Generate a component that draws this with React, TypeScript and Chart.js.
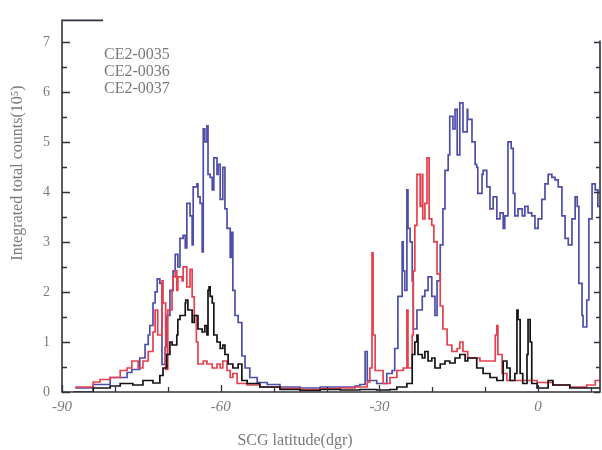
import { useEffect, useRef } from "react";
import { Chart, registerables } from "chart.js";

Chart.register(...registerables);

// ---- data (latitude in degrees, counts in 10^5) ----
const seriesNames = ["CE2-0035", "CE2-0036", "CE2-0037"];
const xTitle = "SCG latitude(dgr)";
const yTitle = "Integrated total counts(10\u2075)";

const latBlue = [
  -87.5, -84.1, -80.9, -77.7, -76.8, -75.3, -74.3, -73.7, -73.4, -72.8, -72.4, -72.0, -71.5,
  -71.1, -70.5, -70.2, -69.6, -69.0, -68.6, -68.1, -67.7, -67.1, -66.7, -66.4, -65.8, -65.4,
  -65.2, -64.5, -64.3, -63.9, -63.5, -63.3, -63.0, -62.6, -62.4, -62.0, -61.6, -61.3, -60.7,
  -60.5, -60.1, -59.6, -59.2, -58.8, -58.2, -57.9, -57.7, -57.3, -56.7, -56.0, -55.4, -54.5,
  -53.1, -51.2, -48.8, -45.0, -41.2, -37.4, -34.6, -33.7, -32.7, -32.3, -30.5, -28.6, -27.6,
  -27.1, -26.5, -25.7, -25.5, -25.2, -24.8, -24.6, -24.2, -23.8, -23.6, -22.9, -21.9, -21.4,
  -20.8, -20.1, -19.5, -19.1, -18.5, -18.0, -17.6, -17.0, -16.7, -16.1, -15.7, -15.3, -14.8,
  -14.2, -13.4, -13.3, -12.5, -11.9, -11.6, -11.4, -10.6, -10.4, -9.7, -9.1, -8.5, -7.8,
  -7.2, -6.6, -6.3, -5.7, -5.1, -4.7, -4.4, -3.8, -3.0, -2.5, -1.9, -1.2, -0.6, 0.0, 0.7,
  1.3, 1.9, 2.6, 3.2, 3.8, 4.5, 5.1, 5.7, 6.4, 7.0, 7.4, 7.7, 8.3, 8.5, 9.2, 9.6, 10.2, 10.8,
  11.3, 11.7,
];
const countsBlue = [
  0.08, 0.15, 0.29, 0.39, 0.45, 0.68, 0.95, 1.14, 1.33, 1.78, 2.0, 2.26, 2.17,
  0.55, 0.9, 1.53, 2.03, 2.42, 2.75, 2.5, 3.07, 3.13, 2.88, 3.77, 3.52, 2.94,
  4.1, 4.16, 3.9, 3.77, 2.8, 5.26, 5.0, 5.32, 4.35, 4.29, 4.04, 4.68, 4.35,
  4.55, 3.85, 4.49, 3.66, 3.27, 2.69, 3.19, 2.03, 1.53, 1.39, 0.72, 0.48, 0.29,
  0.19, 0.15, 0.1, 0.08, 0.1, 0.1, 0.12, 0.15, 0.81, 0.23, 0.17, 0.37, 0.43,
  0.87, 1.91, 3.0, 2.42, 2.03, 4.04, 3.27, 3.0, 2.22, 1.26, 1.64, 1.91, 2.03,
  2.3, 1.91, 1.53, 2.22, 2.94, 3.66, 4.43, 4.74, 5.51, 5.26, 5.65, 4.74, 5.78,
  5.2, 5.65, 5.45, 5.0, 4.55, 4.49, 3.97, 4.35, 4.43, 4.1, 3.66, 3.9, 3.46,
  3.58, 3.27, 3.52, 5.0, 4.87, 3.97, 3.52, 3.66, 3.52, 3.71, 3.58, 3.52, 3.27, 3.46, 3.85,
  4.16, 4.35, 4.29, 4.24, 4.1, 3.52, 3.07, 2.94, 3.46, 3.9, 3.71, 2.17, 1.53, 1.3, 1.84, 3.46, 4.16, 4.04,
  3.71, 3.71,
];

const latRed = [
  -87.5, -84.1, -82.8, -80.9, -79.0, -77.7, -76.8, -75.6, -74.7, -73.7, -72.8, -72.4, -71.9,
  -71.1, -70.9, -70.4, -70.0, -69.2, -69.0, -68.6, -68.3, -68.1, -67.3, -67.1, -66.7, -66.4,
  -65.8, -65.4, -65.0, -64.6, -64.3, -63.3, -62.6, -61.6, -60.7, -60.1, -59.6, -58.8, -58.2,
  -57.7, -56.9, -55.0, -52.6, -48.8, -45.0, -41.2, -37.4, -34.6, -32.3, -31.8, -31.4, -31.2,
  -30.8, -29.3, -28.0, -26.7, -25.5, -24.8, -24.6, -23.8, -23.6, -23.3, -22.9, -22.3, -21.9,
  -21.8, -21.4, -21.0, -20.6, -20.1, -19.7, -19.1, -18.5, -18.0, -17.2, -16.3, -15.3, -14.8,
  -14.2, -13.3, -12.3, -11.0, -9.1, -8.1, -7.8, -7.6, -6.8, -5.9, -3.4, -0.2, 2.8, 6.0, 9.2,
  10.8, 11.7,
];
const countsRed = [
  0.1, 0.2, 0.25, 0.29, 0.43, 0.48, 0.62, 0.48, 0.62, 0.81, 1.2, 1.64, 1.14,
  2.22, 1.78, 0.45, 1.64, 2.03, 2.3, 2.42, 2.03, 2.3, 2.22, 2.5, 2.5, 2.1,
  2.45, 1.9, 1.53, 1.0, 0.56, 0.62, 0.56, 0.48, 0.56, 0.48, 0.62, 0.43, 0.29,
  0.37, 0.17, 0.14, 0.1, 0.07, 0.05, 0.07, 0.08, 0.1, 0.2, 0.48, 2.78, 1.14,
  0.43, 0.17, 0.29, 0.43, 0.48, 1.64, 0.48, 1.14, 2.42, 3.33, 4.35, 3.71, 4.35,
  3.46, 3.77, 4.68, 3.46, 3.33, 3.0, 2.36, 1.72, 1.26, 0.94, 0.81, 0.87, 1.0,
  0.81, 0.68, 0.68, 0.62, 0.62, 1.14, 1.33, 0.75, 0.37, 0.23, 0.23, 0.19, 0.14, 0.1, 0.14,
  0.23, 0.23,
];

const latBlack = [
  -87.9, -84.1, -80.9, -79.0, -76.6, -74.7, -72.8, -71.5, -70.9, -70.2, -69.6, -69.2, -68.6,
  -68.3, -68.1, -67.7, -67.3, -66.7, -66.6, -66.2, -65.4, -65.0, -64.3, -63.5, -63.0, -62.6,
  -62.4, -62.2, -62.0, -61.6, -61.3, -60.7, -60.1, -59.6, -59.2, -58.6, -57.7, -56.7, -56.0,
  -55.0, -52.6, -48.8, -45.0, -41.2, -37.4, -33.7, -30.5, -28.0, -26.7, -24.8, -23.8, -23.3,
  -22.9, -22.7, -21.9, -21.4, -20.8, -20.1, -19.5, -18.5, -17.6, -16.7, -15.7, -14.8, -13.8,
  -13.3, -12.9, -11.6, -10.4, -9.1, -7.8, -6.6, -5.9, -5.3, -4.4, -4.0, -3.8, -3.4, -2.9,
  -2.1, -1.9, -1.5, -1.2, -0.2, 1.9, 2.8, 6.0, 9.8, 11.7,
];
const countsBlack = [
  0.0, 0.08, 0.12, 0.17, 0.14, 0.23, 0.18, 0.33, 0.48, 0.75, 1.0, 0.94, 0.94,
  1.14, 1.45, 1.53, 1.53, 1.78, 1.84, 1.64, 1.39, 1.53, 1.26, 1.2, 1.33, 1.14,
  2.03, 2.1, 1.91, 1.78, 1.14, 1.0, 0.87, 0.94, 0.75, 0.56, 0.48, 0.56, 0.23,
  0.17, 0.1, 0.05, 0.03, 0.05, 0.04, 0.05, 0.04, 0.05, 0.1, 0.17, 0.75, 1.0,
  1.14, 0.75, 0.68, 0.81, 0.62, 0.68, 0.48, 0.56, 0.62, 0.58, 0.68, 0.75, 0.62,
  0.68, 0.68, 0.48, 0.37, 0.29, 0.23, 0.62, 0.48, 0.23, 0.37, 1.64, 1.45, 0.37, 0.17,
  0.75, 1.45, 1.0, 0.17, 0.08, 0.23, 0.14, 0.08, 0.08, 0.1,
];

const xMin = -90;
const xMax = 11.7;
const yMin = 0;
const yMax = 7.43;

const toPoints = (xs: number[], ys: number[]) => xs.map((x, i) => ({ x, y: ys[i] }));

const SERIF = "'Liberation Serif', 'Times New Roman', serif";
const TEXT_GRAY = "#7a7a7a";
const AXIS_COLOR = "#33333f";

const decorPlugin = {
  id: "decor",
  afterDraw(chart: any) {
    const { ctx, chartArea: a, scales } = chart;
    const xs = scales.x;
    const ys = scales.y;
    ctx.save();
    // frame
    ctx.strokeStyle = AXIS_COLOR;
    ctx.lineWidth = 1.6;
    ctx.beginPath();
    ctx.moveTo(a.left + 41, a.top);
    ctx.lineTo(a.left, a.top);
    ctx.lineTo(a.left, a.bottom);
    ctx.lineTo(a.right, a.bottom);
    ctx.lineTo(a.right, a.top + 20);
    ctx.stroke();
    // y ticks (left inward, right inward)
    ctx.lineWidth = 1.3;
    for (let v = 0; v <= 7.01; v += 0.5) {
      const py = Math.round(ys.getPixelForValue(v)) + 0.5;
      const major = Math.abs(v - Math.round(v)) < 0.01;
      ctx.beginPath();
      ctx.moveTo(a.left, py);
      ctx.lineTo(a.left + (major ? 8 : 5), py);
      ctx.moveTo(a.right, py);
      ctx.lineTo(a.right - (major ? 6 : 4), py);
      ctx.stroke();
    }
    // x ticks (inward)
    for (let v = -90; v <= 10; v += 10) {
      const px = Math.round(xs.getPixelForValue(v)) + 0.5;
      const major = v % 30 === 0;
      ctx.beginPath();
      ctx.moveTo(px, a.bottom);
      ctx.lineTo(px, a.bottom - (major ? 7 : 5));
      ctx.stroke();
    }
    // legend texts
    ctx.fillStyle = TEXT_GRAY;
    ctx.font = `16px ${SERIF}`;
    ctx.textAlign = "left";
    ctx.textBaseline = "middle";
    seriesNames.forEach((name, i) => {
      ctx.fillText(name, a.left + 42, a.top + 34 + i * 17);
    });
    // x title
    ctx.font = `16px ${SERIF}`;
    ctx.textAlign = "center";
    ctx.fillText(xTitle, 295, 441);
    // y title
    ctx.translate(18, 173);
    ctx.rotate(-Math.PI / 2);
    ctx.fillText(yTitle, 0, 0);
    ctx.restore();
  },
};

export default function App() {
  const ref = useRef<HTMLCanvasElement | null>(null);
  useEffect(() => {
    if (!ref.current) return;
    const common = {
      pointRadius: 0,
      borderWidth: 1.7,
      stepped: true as const,
      fill: false,
      tension: 0,
    };
    const chart = new Chart(ref.current, {
      type: "line",
      data: {
        datasets: [
          { ...common, label: seriesNames[0], data: toPoints(latBlue, countsBlue), borderColor: "#4e4eaa", order: 3 },
          { ...common, label: seriesNames[1], data: toPoints(latRed, countsRed), borderColor: "#e6404f", order: 2 },
          { ...common, label: seriesNames[2], data: toPoints(latBlack, countsBlack), borderColor: "#141418", order: 1 },
        ],
      },
      options: {
        responsive: false,
        animation: false,
        devicePixelRatio: 1,
        layout: { padding: { left: 0, top: 8, right: 2, bottom: 0 } },
        plugins: { legend: { display: false }, tooltip: { enabled: false }, title: { display: false } },
        scales: {
          x: {
            type: "linear",
            min: xMin,
            max: xMax,
            grid: { display: false, drawTicks: false },
            border: { display: false },
            ticks: {
              stepSize: 30,
              includeBounds: false,
              padding: 6,
              color: TEXT_GRAY,
              font: { family: SERIF, size: 15, style: "italic" },
              maxRotation: 0,
            },
            afterFit: (s: any) => {
              s.height = 58;
            },
          },
          y: {
            type: "linear",
            min: yMin,
            max: yMax,
            grid: { display: false, drawTicks: false },
            border: { display: false },
            ticks: {
              stepSize: 1,
              includeBounds: false,
              padding: 12,
              color: TEXT_GRAY,
              font: { family: SERIF, size: 14 },
            },
            afterFit: (s: any) => {
              s.width = 62;
            },
          },
        },
      },
      plugins: [decorPlugin],
    });
    return () => chart.destroy();
  }, []);
  return (
    <div style={{ position: "absolute", left: 0, top: 0, width: 602, height: 450, background: "#fff" }}>
      <canvas ref={ref} width={602} height={450} style={{ display: "block", width: 602, height: 450 }} />
    </div>
  );
}
